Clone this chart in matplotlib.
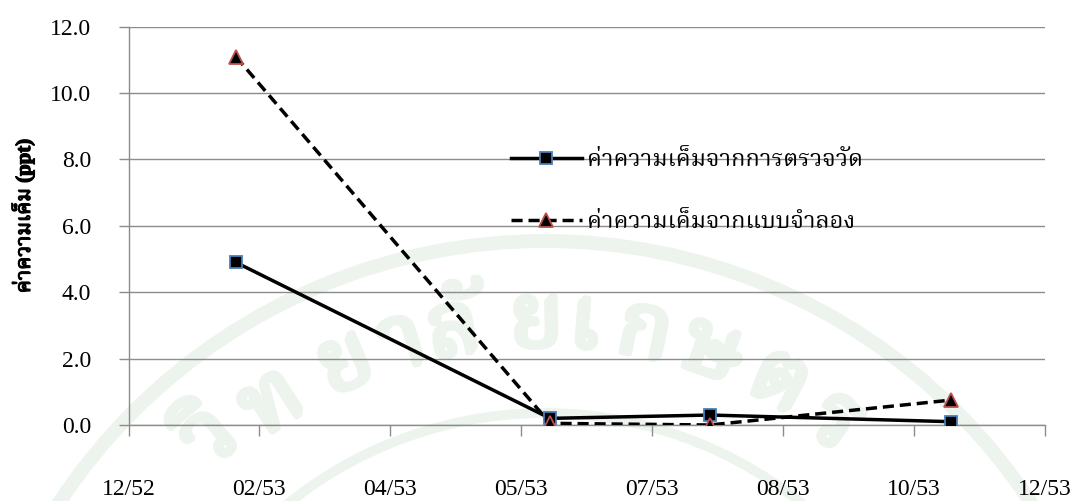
import datetime as dt
import matplotlib
matplotlib.use("Agg")
import matplotlib.pyplot as plt
import matplotlib.dates as mdates
import matplotlib.patheffects as pe
import numpy as np
from matplotlib import font_manager as fm
from matplotlib.ft2font import FT2Font
from matplotlib.patches import Arc
from matplotlib.ticker import FormatStrFormatter, FuncFormatter

# ---- data -------------------------------------------------------------
sample_dates = ["2010-02-01", "2010-06-01", "2010-08-01", "2010-11-01"]
salinity_measured = [4.9, 0.2, 0.3, 0.1]
salinity_model = [11.1, 0.05, 0.0, 0.75]
label_measured = "ค่าความเค็มจากการตรวจวัด"
label_model = "ค่าความเค็มจากแบบจำลอง"
y_label = "ค่าความเค็ม (ppt)"
y_ticks = [0, 2, 4, 6, 8, 10, 12]
x_start = "2009-12-22"
x_step_days = 50
x_n_ticks = 8

# background seal lettering (clusters placed along an arc)
seal_letters = ["วิ", "ท", "ย", "า", "ลั", "ย", "เ", "ก", "ษ", "ต", "ร"]
seal_angles = [131, 123, 113.5, 106.5, 100.5, 91, 85.5, 78.5, 70.5, 62, 54]
seal_radii = [510, 500, 500, 500, 500, 500, 500, 500, 500, 500, 495]


# ---- fonts ------------------------------------------------------------
def thai_family():
    preferred = ["Norasi", "Kinnari", "Noto Serif Thai", "TH Sarabun New",
                 "Laksaman", "Garuda", "Loma", "Noto Sans Thai", "FreeSerif",
                 "FreeSans", "Waree", "Umpush", "Tlwg Typo"]
    names = {f.name: f.fname for f in fm.fontManager.ttflist}
    for p in preferred:
        if p in names:
            return p
    for name, path in names.items():
        if "CJK" in name:
            continue
        try:
            if 0x0E04 in FT2Font(path).get_charmap():
                return name
        except Exception:
            pass
    return "DejaVu Sans"


THAI = thai_family()
SERIF = "Liberation Serif"
plt.rcParams["font.family"] = [SERIF, THAI]

fig = plt.figure(figsize=(10.74, 5.01), dpi=100)

# ---- faint university seal behind the chart ----------------------------
SEAL = "#edf3ed"
bg = fig.add_axes([0, 0, 1, 1], zorder=0)
bg.set_xlim(0, 1074)
bg.set_ylim(501, 0)
bg.set_aspect("equal")
bg.axis("off")
cx, cy = 545, 823
bg.add_patch(Arc((cx, cy), 2 * 582, 2 * 582, theta1=180, theta2=360,
                 color=SEAL, lw=10))
bg.add_patch(Arc((cx, cy), 2 * 410, 2 * 410, theta1=180, theta2=360,
                 color=SEAL, lw=7))
for ch, ang, r in zip(seal_letters, seal_angles, seal_radii):
    a = np.radians(ang)
    bg.text(cx + r * np.cos(a), cy - r * np.sin(a), ch,
            rotation=ang - 90, rotation_mode="anchor", ha="center",
            va="center", fontsize=64, color=SEAL,
            family=[THAI, "DejaVu Sans"],
            path_effects=[pe.withStroke(linewidth=4.5, foreground=SEAL)])

# ---- chart -------------------------------------------------------------
ax = fig.add_axes([128.5 / 1074, 1 - 425 / 501, (1045 - 128.5) / 1074,
                   (425 - 26.7) / 501], zorder=1)
ax.patch.set_alpha(0)

dates = [dt.datetime.fromisoformat(d) for d in sample_dates]
ax.plot(dates, salinity_measured, color="black", lw=2.5, marker="s",
        ms=9, mfc="black", mec="#4a7ebb", mew=1.3, label=label_measured,
        zorder=3)
ax.plot(dates, salinity_model, color="black", lw=2.5, ls=(0, (3.2, 1.7)),
        marker="^", ms=10, mfc="black", mec="#c0504d", mew=1.3,
        label=label_model, zorder=4)

x0 = dt.datetime.fromisoformat(x_start)
x_ticks = [x0 + dt.timedelta(days=x_step_days * i) for i in range(x_n_ticks)]
ax.set_xlim(x_ticks[0], x_ticks[-1])
ax.set_xticks(x_ticks)
ax.xaxis.set_major_formatter(FuncFormatter(
    lambda v, pos: "{:02d}/{:02d}".format(mdates.num2date(v).month,
                                          (mdates.num2date(v).year + 543) % 100)))

ax.set_ylim(0, 12)
ax.set_yticks(y_ticks)
ax.yaxis.set_major_formatter(FormatStrFormatter("%.1f"))
ax.yaxis.grid(True, color="#8c8c8c", lw=1.0)
ax.set_axisbelow(True)

for side in ("top", "right"):
    ax.spines[side].set_visible(False)
for side in ("left", "bottom"):
    ax.spines[side].set_color("#8c8c8c")
    ax.spines[side].set_linewidth(1.0)

ax.tick_params(axis="y", length=7, width=1.0, color="#8c8c8c", pad=20,
               labelsize=17)
ax.tick_params(axis="x", length=8, width=1.0, color="#8c8c8c", pad=31,
               labelsize=17)
for lab in ax.get_xticklabels() + ax.get_yticklabels():
    lab.set_fontfamily(SERIF)

ylab = ax.set_ylabel(y_label, family=[SERIF, THAI, "DejaVu Sans"],
                     fontweight="bold", fontsize=15)
ylab.set_path_effects([pe.withStroke(linewidth=0.9, foreground="black")])
ax.yaxis.set_label_coords((35 - 128.5) / 916.5, (425 - 216) / 398.3)

leg = ax.legend(loc="upper left", bbox_to_anchor=(0.4045, 0.725),
                frameon=False,
                prop={"family": [THAI, "DejaVu Sans"], "size": 17},
                handlelength=3.0, handletextpad=0.2, labelspacing=1.6,
                borderpad=0)

fig.savefig("out.png", dpi=100)
